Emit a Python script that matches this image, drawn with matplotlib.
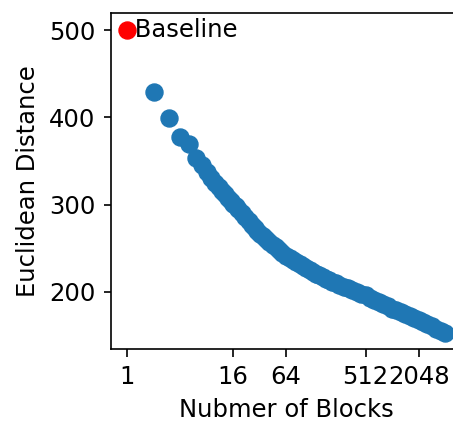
import matplotlib
matplotlib.use('Agg')
import matplotlib.pyplot as plt

# valori
baseline_blocks = [1]
baseline_dist = [500]

blocks = [2, 3, 4, 5, 6, 7,
          8, 9, 10, 11, 12, 13, 14, 15, 16,
          17, 18, 20, 22, 24, 26, 28, 30, 32,
          35, 38, 41, 45, 49, 53, 58, 64,
          70, 76, 83, 91, 99, 108, 118, 128,
          140, 152, 166, 181, 197, 215, 234, 256,
          287, 323, 362, 406, 456, 512,
          575, 645, 724, 813, 912, 1024,
          1149, 1290, 1448, 1625, 1825, 2048,
          2299, 2580, 2896, 3251, 3649, 4096]
dist = [429, 399, 377, 370, 353, 345,
        337, 330.9, 325.4, 320.5, 315.9, 311.8, 307.9, 304.3, 301,
        298.0, 295.2, 290.1, 285.4, 281.1, 277.2, 273.6, 270.2, 267,
        263.6, 260.6, 257.7, 254.2, 251.0, 248.1, 244.7, 241,
        238.6, 236.4, 234.1, 231.6, 229.4, 227.0, 224.7, 222.5,
        220.6, 218.9, 217.1, 215.3, 213.5, 211.7, 209.9, 208,
        206.0, 204.0, 202, 200.0, 198.0, 196,
        193.5, 191, 188.5, 186, 183.5, 181,
        178.8, 176.7, 174.5, 172.3, 170.2, 168,
        165.5, 163, 160.5, 158, 155.5, 153]

tick_vals = [1, 16, 64, 512, 2048]
tick_labels = ['1', '16', '64', '512', '2048']

# dimensiuni in puncte (1 px = 0.72 pt la dpi 100)
plt.rcParams['font.size'] = 17.5
plt.rcParams['axes.linewidth'] = 1.2
plt.rcParams['xtick.major.size'] = 5.4
plt.rcParams['ytick.major.size'] = 5.4
plt.rcParams['xtick.major.width'] = 1.2
plt.rcParams['ytick.major.width'] = 1.2
plt.rcParams['xtick.major.pad'] = 6.1
plt.rcParams['ytick.major.pad'] = 6.1

fig = plt.figure(figsize=(4.53, 4.22), dpi=100)
ax = fig.add_axes([0.246, 0.173, 0.7715, 0.796])

ax.scatter(blocks, dist, s=150, color='#1f77b4')
ax.scatter(baseline_blocks, baseline_dist, s=150, color='red')
ax.text(baseline_blocks[0], baseline_dist[0], ' Baseline', va='center')

ax.set_xscale('log', base=2)
ax.set_xticks(tick_vals)
ax.set_xticklabels(tick_labels)
ax.minorticks_off()
ax.set_ylim(134.7, 519.5)
ax.set_yticks([200, 300, 400, 500])

ax.set_xlabel('Nubmer of Blocks', labelpad=6.8)
ax.set_ylabel('Euclidean Distance', labelpad=6.8)

plt.savefig('out.png', dpi=100)
plt.close()
